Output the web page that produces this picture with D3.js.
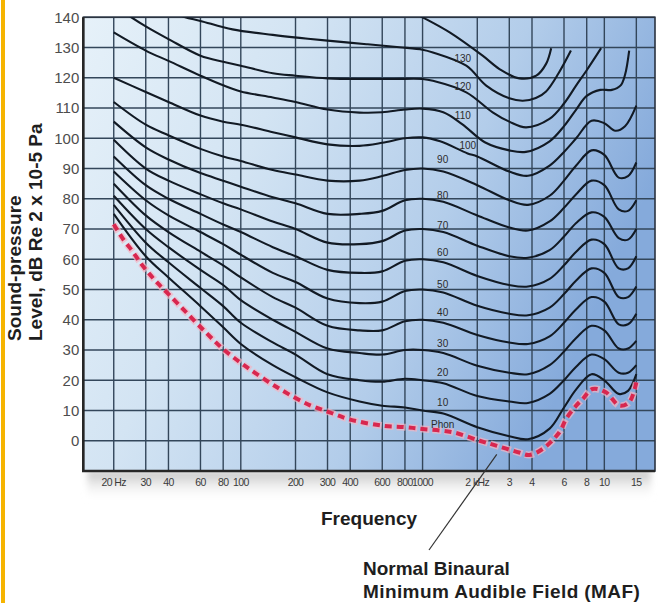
<!DOCTYPE html>
<html lang="en">
<head>
<meta charset="utf-8">
<title>Equal loudness contours</title>
<script src="https://d3js.org/d3.v7.min.js"></script>
<style>
  body { margin: 0; background: #fff; }
  svg { display: block; font-family: "Liberation Sans", Arial, sans-serif; }
  .ytick { font-size: 15px; fill: #4d4d4d; }
  .xtick { font-size: 10.5px; letter-spacing: -0.6px; fill: #3a3a3a; }
  .grid { stroke: #33465a; stroke-width: 1.4; }
  .contour { fill: none; stroke: #121a24; stroke-width: 2.1; }
  .plabel { font-size: 10px; fill: #2b2b2b; }
  .title { font-weight: bold; font-size: 19px; fill: #1e1e1e; }
</style>
</head>
<body>
<div id="chart"></div>
<script>

// axis ticks
var freqTicks = [20, 30, 40, 60, 80, 100, 200, 300, 400, 600, 800, 1000, 2000, 3000, 4000, 6000, 8000, 10000, 15000];
var freqLabels = ["20 Hz", "30", "40", "60", "80", "100", "200", "300", "400", "600", "800", "1000", "2 kHz", "3", "4", "6", "8", "10", "15"];
var dbTicks = [0, 10, 20, 30, 40, 50, 60, 70, 80, 90, 100, 110, 120, 130, 140];

// contours, [frequency Hz, dB]
var maf = [[20,71.6],[22.5,66.7],[25.6,62.3],[28.4,58.4],[31.6,55],[35,52],[40,48.5],[50,42.5],[65,35.5],[80,30.3],[107,24.5],[164,17.1],[239,11.8],[308,9.4],[400,7],[600,5],[800,4.5],[1000,3.9],[1470,2.8],[2060,0],[2540,-1.6],[3400,-3.9],[3870,-4.7],[4580,-2.7],[5660,2.8],[6160,7.2],[7000,11.6],[7600,13.8],[8600,17.1],[10200,16],[12100,11.6],[13700,12.7],[15000,19.3]];
var phon10 = [[20,75],[30,61],[40,54],[60,44.5],[80,37.5],[100,32],[150,25],[200,21],[300,16],[450,13],[600,11.6],[800,11],[1000,10],[1300,9],[2000,4.5],[3000,1.5],[3800,0.5],[5000,4],[6000,11],[7000,17],[8500,22],[10000,20],[12000,15.5],[13500,16.5],[15000,22]];
var phon20 = [[20,78],[30,65.5],[40,59],[60,50.5],[80,44.5],[100,39],[150,32.5],[200,28.5],[300,22],[450,20],[600,19.5],[800,20.5],[1000,20],[1300,19],[2000,14.8],[3000,13],[3800,12.5],[5000,15.5],[6000,20],[7000,24.5],[8500,28.5],[10000,27],[12000,22.5],[13500,22.5],[15000,25]];
var phon30 = [[20,81],[30,70],[40,64],[60,56.5],[80,51.5],[100,46.5],[150,40],[200,36],[300,30.5],[450,29],[600,28.5],[800,30],[1000,30],[1300,29],[2000,24.8],[3000,22.5],[3800,22],[5000,25],[6000,29.5],[7000,34],[8500,38],[10000,36.5],[12000,30.5],[13500,30.5],[15000,33]];
var phon40 = [[20,85],[30,74.5],[40,69],[60,62.5],[80,58],[100,54],[150,47.5],[200,44],[300,38],[450,36.5],[600,36.5],[800,39.5],[1000,40],[1300,39],[2000,35],[3000,32.5],[3800,32],[5000,34.5],[6000,39],[7000,43.5],[8500,47.5],[10000,46],[12000,38.5],[13500,38.5],[15000,42]];
var phon50 = [[20,89],[30,79.5],[40,74.5],[60,69],[80,65],[100,61.5],[150,55.5],[200,52.5],[300,47],[450,45.5],[600,46],[800,49.5],[1000,50],[1300,49],[2000,44.6],[3000,42],[3800,41.5],[5000,44],[6000,48.5],[7000,53],[8500,57],[10000,55.5],[12000,47.5],[13500,47.5],[15000,51]];
var phon60 = [[20,94],[30,84.5],[40,80],[60,75],[80,71.5],[100,69],[150,64],[200,61],[300,56.5],[450,55.5],[600,56],[800,59.5],[1000,60],[1300,59],[2000,54.5],[3000,51.5],[3800,51],[5000,53.5],[6000,58],[7000,62.5],[8500,66.5],[10000,65],[12000,57],[13500,57],[15000,61]];
var phon70 = [[20,99.5],[30,90],[40,86],[60,81.5],[80,78.5],[100,76.5],[150,72.5],[200,70],[300,65.5],[450,65],[600,66],[800,69.5],[1000,70],[1300,69],[2000,64.5],[3000,61],[3800,60.5],[5000,63],[6000,67.5],[7000,72],[8500,75.5],[10000,74],[12000,67],[13500,66.5],[15000,70]];
var phon80 = [[20,105.5],[30,97],[40,93],[60,88.5],[80,86],[100,84],[150,80.5],[200,78.5],[300,75],[450,75],[600,76],[800,79.5],[1000,80],[1300,79],[2000,74.5],[3000,70.5],[3800,69.5],[5000,72.5],[6000,77],[7000,81.5],[8500,86],[10000,84.5],[12000,76.5],[13500,76],[15000,79.5]];
var phon90 = [[20,112],[30,104.5],[40,101],[60,96.5],[80,94],[100,92.5],[150,89.5],[200,88],[300,86],[450,86],[600,87.5],[800,89.5],[1000,90],[1300,89],[2000,84.5],[3000,79.5],[3800,78],[5000,81],[6000,86],[7000,91],[8500,96],[10000,94.5],[12000,87],[13500,87.5],[15000,92]];
var phon100 = [[20,120],[30,115.3],[40,112],[60,107.5],[80,105.5],[100,104.5],[150,102],[200,100.3],[300,98],[450,97.5],[600,98.5],[800,100],[1000,100.3],[1250,99],[1770,95],[2000,94],[3000,89],[3800,87.6],[5000,91],[6000,95.5],[7000,100],[8500,105.8],[10000,105],[11500,102.5],[13000,104],[15000,110.8]];
var phon110 = [[20,135],[30,129],[40,125.6],[60,120.7],[80,117.5],[100,115.5],[150,113.5],[200,112],[300,109.5],[450,108.5],[600,108.6],[800,109.5],[1000,109.8],[1300,108.6],[1650,104.7],[2200,98.7],[3000,96],[3700,95.5],[5000,99],[6000,104],[7000,109.5],[8000,114],[9500,116],[11000,116],[12300,117.5],[13000,121],[13700,129]];
var phon120 = [[23,141.5],[25,140],[30,137],[40,132.8],[60,127.3],[80,125.3],[100,124],[150,121.5],[200,120.7],[300,119.8],[500,119.6],[700,119.6],[1000,119.6],[1140,119],[1740,115.2],[2430,108.6],[3000,105.5],[3710,103.6],[4990,106.4],[6000,111.5],[6990,117.4],[8000,122.5],[9600,129.8]];
var phon130 = [[45,141],[49.5,140],[60,138.8],[90,136],[150,134.2],[211,133.2],[300,132.3],[492,131.1],[747,130.1],[1000,129.3],[1140,128.4],[1740,124],[2240,117.4],[3000,113.2],[3560,112.4],[4200,113.3],[4780,115.5],[5600,121.5],[6550,129]];
var phon140 = [[800,143],[1000,140],[1410,135],[2140,127.3],[2650,122.9],[3410,119.8],[4220,120.7],[4780,124.6],[5100,129.8]];

// contour labels: text, frequency, dB
var phonLabels = [["130",1665,126.5],["120",1665,117],["110",1665,107.5],["100",1773,97.6],["90",1290,92.9],["80",1290,81],["70",1290,71.3],["60",1290,62.3],["50",1290,51.8],["40",1290,42.5],["30",1290,32.3],["20",1290,22.6],["10",1290,12.5],["Phon",1290,5.5]];

var w = 658;
var h = 603;

var svg = d3.select("div#chart").append("svg")
  .attr("width", w)
  .attr("height", h);

var x = d3.scaleLog().domain([13.6, 19000]).range([83.3, 655]);
var y = d3.scaleLinear().domain([-10, 140]).range([471, 17.3]);

var x0 = x.range()[0], x1 = x.range()[1];
var yTop = y(140), yBot = y(-10);

// defs
var defs = svg.append("defs");
var bg = defs.append("linearGradient").attr("id", "bg")
  .attr("x1", 0).attr("y1", 0).attr("x2", 1).attr("y2", 0.35);
bg.append("stop").attr("offset", "0%").attr("stop-color", "#e6f1f9");
bg.append("stop").attr("offset", "35%").attr("stop-color", "#d3e4f3");
bg.append("stop").attr("offset", "70%").attr("stop-color", "#b3cdea");
bg.append("stop").attr("offset", "100%").attr("stop-color", "#85aadb");

var shade = defs.append("linearGradient").attr("id", "shade")
  .attr("x1", 0).attr("y1", 0).attr("x2", 0).attr("y2", 1);
shade.append("stop").attr("offset", "0%").attr("stop-color", "#a9a9a9").attr("stop-opacity", 0.75);
shade.append("stop").attr("offset", "100%").attr("stop-color", "#ffffff").attr("stop-opacity", 0);

defs.append("filter").attr("id", "soft").append("feGaussianBlur").attr("stdDeviation", 3);

defs.append("clipPath").attr("id", "plotclip").append("rect")
  .attr("x", x0).attr("y", yTop).attr("width", x1 - x0).attr("height", yBot - yTop);

// orange edge
svg.append("rect").attr("x", 1).attr("y", 0).attr("width", 4).attr("height", h).attr("fill", "#f6b400");

// shadow under the frame
svg.append("rect")
  .attr("x", x0 + 4).attr("y", yBot).attr("width", x1 - x0 - 8).attr("height", 30)
  .attr("fill", "url(#shade)")
  .attr("filter", "url(#soft)");

// plot background
svg.append("rect")
  .attr("x", x0).attr("y", yTop).attr("width", x1 - x0).attr("height", yBot - yTop)
  .attr("fill", "url(#bg)");

// grid
var grid = svg.append("g").attr("id", "grid");
grid.selectAll("line.v")
  .data(freqTicks)
  .enter()
  .append("line")
  .attr("class", "grid v")
  .attr("x1", d => x(d)).attr("x2", d => x(d))
  .attr("y1", yTop).attr("y2", yBot);
grid.selectAll("line.h")
  .data(dbTicks)
  .enter()
  .append("line")
  .attr("class", "grid h")
  .attr("x1", x0).attr("x2", x1)
  .attr("y1", d => y(d)).attr("y2", d => y(d));

// frame
svg.append("rect")
  .attr("x", x0).attr("y", yTop).attr("width", x1 - x0).attr("height", yBot - yTop)
  .attr("fill", "none").attr("stroke", "#2a3340").attr("stroke-width", 1.6);
svg.append("path")
  .attr("d", "M" + x0 + "," + yTop + "V" + yBot + "H" + x1)
  .attr("fill", "none").attr("stroke", "#262626").attr("stroke-width", 2.6);

// tick labels
svg.append("g").selectAll("text")
  .data(dbTicks)
  .enter()
  .append("text")
  .attr("class", "ytick")
  .attr("x", x0 - 4)
  .attr("y", d => y(d))
  .attr("dy", "0.35em")
  .attr("text-anchor", "end")
  .text(d => d);

svg.append("g").selectAll("text")
  .data(freqTicks)
  .enter()
  .append("text")
  .attr("class", "xtick")
  .attr("x", d => x(d))
  .attr("y", yBot + 15)
  .attr("text-anchor", "middle")
  .text((d, i) => freqLabels[i]);

// contours
var line = d3.line()
  .x(d => x(d[0]))
  .y(d => y(d[1]))
  .curve(d3.curveCatmullRom.alpha(0.5));

var contours = [phon10, phon20, phon30, phon40, phon50, phon60, phon70, phon80, phon90, phon100, phon110, phon120, phon130, phon140];

var plot = svg.append("g").attr("clip-path", "url(#plotclip)");

plot.selectAll("path.contour")
  .data(contours)
  .enter()
  .append("path")
  .attr("class", "contour")
  .attr("d", line);

// MAF, dashed red with a pink glow
plot.append("path")
  .datum(maf)
  .attr("d", line)
  .attr("fill", "none")
  .attr("stroke", "#f3b3c2")
  .attr("stroke-width", 7)
  .attr("stroke-opacity", 0.7)
  .attr("stroke-dasharray", "9,3");
plot.append("path")
  .datum(maf)
  .attr("d", line)
  .attr("fill", "none")
  .attr("stroke", "#d8274f")
  .attr("stroke-width", 4)
  .attr("stroke-dasharray", "7,5");

// contour labels
svg.append("g").selectAll("text")
  .data(phonLabels)
  .enter()
  .append("text")
  .attr("class", "plabel")
  .attr("x", d => x(d[1]))
  .attr("y", d => y(d[2]))
  .attr("dy", "0.35em")
  .attr("text-anchor", "middle")
  .text(d => d[0]);

// axis titles
svg.append("text").attr("class", "title")
  .attr("text-anchor", "start")
  .attr("transform", "translate(21,341) rotate(-90)")
  .text("Sound-pressure");
svg.append("text").attr("class", "title")
  .attr("text-anchor", "start")
  .attr("transform", "translate(42,341) rotate(-90)")
  .text("Level, dB Re 2 x 10-5 Pa");

svg.append("text").attr("class", "title")
  .attr("x", 369).attr("y", 525)
  .attr("text-anchor", "middle")
  .text("Frequency");

// MAF callout
svg.append("line")
  .attr("x1", x(2560)).attr("y1", y(-4.5))
  .attr("x2", 429).attr("y2", 550)
  .attr("stroke", "#333").attr("stroke-width", 1.2);

svg.append("text").attr("class", "title")
  .attr("x", 363).attr("y", 575)
  .text("Normal Binaural");
svg.append("text").attr("class", "title")
  .attr("x", 363).attr("y", 598)
  .attr("letter-spacing", "0.4px")
  .text("Minimum Audible Field (MAF)");

</script>
</body>
</html>
